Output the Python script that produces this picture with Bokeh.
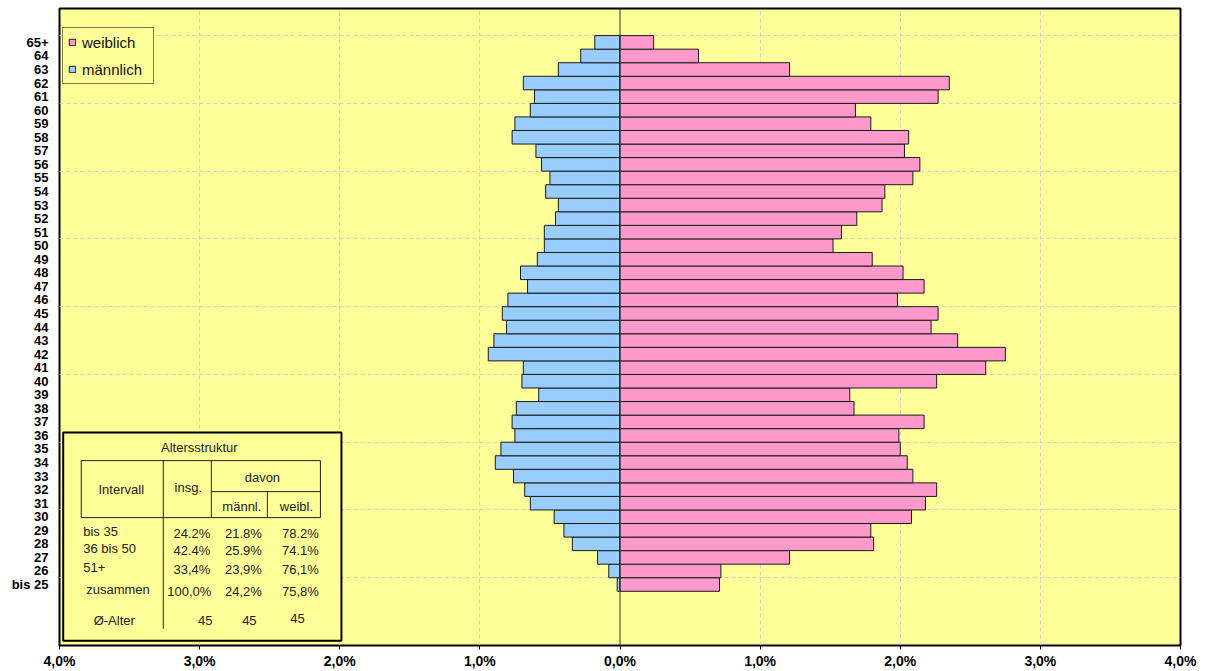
from bokeh.plotting import figure
from bokeh.models import Range1d, FixedTicker, Legend, LegendItem, Span
from bokeh.core.properties import value
from bokeh.embed import file_html
from bokeh.resources import INLINE

# ---------------- data ----------------
categories = ["bis 25"] + [str(a) for a in range(26, 65)] + ["65+"]
male = [0.02, 0.08, 0.16, 0.34, 0.40, 0.47, 0.64, 0.68, 0.76, 0.89,
        0.85, 0.75, 0.77, 0.74, 0.58, 0.70, 0.69, 0.94, 0.90, 0.81,
        0.84, 0.80, 0.66, 0.71, 0.59, 0.54, 0.54, 0.46, 0.44, 0.53,
        0.50, 0.56, 0.60, 0.77, 0.75, 0.64, 0.61, 0.69, 0.44, 0.28, 0.18]
female = [0.71, 0.72, 1.21, 1.81, 1.79, 2.08, 2.18, 2.26, 2.09, 2.05,
          2.00, 1.99, 2.17, 1.67, 1.64, 2.26, 2.61, 2.75, 2.41, 2.22,
          2.27, 1.98, 2.17, 2.02, 1.80, 1.52, 1.58, 1.69, 1.87, 1.89,
          2.09, 2.14, 2.03, 2.06, 1.79, 1.68, 2.27, 2.35, 1.21, 0.56, 0.24]
x_ticks = [-4, -3, -2, -1, 0, 1, 2, 3, 4]
x_tick_labels = ["4,0%", "3,0%", "2,0%", "1,0%", "0,0%", "1,0%", "2,0%", "3,0%", "4,0%"]
series_names = ["weiblich", "männlich"]

table_title = "Altersstruktur"
table_headers = ["Intervall", "insg.", "davon", "männl.", "weibl."]
row_labels = ["bis 35", "36 bis 50", "51+", "zusammen"]
share_total = ["24.2%", "42.4%", "33,4%", "100,0%"]
share_male = ["21.8%", "25.9%", "23,9%", "24,2%"]
share_female = ["78.2%", "74.1%", "76,1%", "75,8%"]
avg_label = "Ø-Alter"
avg_age = ["45", "45", "45"]

# ---------------- style ----------------
FONT = "Liberation Sans"
BG = "#FFFF99"
PINK = "#FF99CC"
BLUE = "#99CCFF"
GRID = "#cfcfcf"

ypos = list(range(len(categories)))

p = figure(width=1200, height=671,
           min_border_left=59, min_border_right=20, min_border_top=8, min_border_bottom=0,
           x_range=Range1d(-4, 4), y_range=Range1d(-4.5, 42.5),
           output_backend="svg", toolbar_location=None)
p.background_fill_color = BG
p.border_fill_color = "white"
p.outline_line_color = "black"
p.outline_line_width = 2

# grids
p.xgrid.ticker = FixedTicker(ticks=[-3, -2, -1, 1, 2, 3])
p.xgrid.grid_line_color = GRID
p.xgrid.grid_line_dash = "4 3"
p.ygrid.ticker = FixedTicker(ticks=[40.5 - 5 * k for k in range(9)])
p.ygrid.grid_line_color = GRID
p.ygrid.grid_line_dash = "4 3"

# axes
p.xaxis.ticker = FixedTicker(ticks=x_ticks)
p.xaxis.major_label_overrides = {t: l for t, l in zip(x_ticks, x_tick_labels)}
p.xaxis.major_label_text_font = FONT
p.xaxis.major_label_text_font_style = "bold"
p.xaxis.major_label_text_font_size = "14px"
p.xaxis.major_label_text_color = "black"
p.xaxis.major_tick_out = 4
p.xaxis.major_tick_in = 0
p.xaxis.major_tick_line_color = "black"
p.xaxis.minor_tick_line_color = None
p.xaxis.axis_line_color = "black"
p.xaxis.major_label_standoff = 3

p.yaxis.ticker = FixedTicker(ticks=ypos)
p.yaxis.major_label_overrides = {i: c for i, c in zip(ypos, categories)}
p.yaxis.major_label_text_font = FONT
p.yaxis.major_label_text_font_style = "bold"
p.yaxis.major_label_text_font_size = "13px"
p.yaxis.major_label_text_color = "black"
p.yaxis.major_tick_out = 0
p.yaxis.major_tick_in = 0
p.yaxis.minor_tick_line_color = None
p.yaxis.axis_line_color = None
p.yaxis.major_label_standoff = 11

# bars
neg_male = [-v for v in male]
rm = p.hbar(y=ypos, left=neg_male, right=0, height=1, fill_color=BLUE,
            line_color="#1a1a1a", line_width=1)
rf = p.hbar(y=ypos, left=0, right=female, height=1, fill_color=PINK,
            line_color="#1a1a1a", line_width=1)

p.add_layout(Span(location=0, dimension="height", line_color="#333333", line_width=1))

legend = Legend(items=[LegendItem(label=series_names[0], renderers=[rf]),
                       LegendItem(label=series_names[1], renderers=[rm])],
                location=(3, 561))
legend.border_line_color = "black"
legend.border_line_width = 1
legend.background_fill_color = BG
legend.background_fill_alpha = 1
legend.label_text_font = FONT
legend.label_text_font_size = "15px"
legend.label_text_color = "#111111"
legend.glyph_width = 8
legend.glyph_height = 8
legend.padding = 5
legend.spacing = 9
legend.label_height = 18
legend.label_width = 66
legend.label_standoff = 6
p.add_layout(legend, "center")

# ---------------- table (placed via reference pixel positions) ----------------
def dx(px):
    return (px - 620.3) / 140.0

def dy(py):
    return 42.5 - (py - 8.0) / 13.55

p.quad(left=[dx(64)], right=[dx(342)], top=[dy(432)], bottom=[dy(640)],
       fill_color=BG, line_color="black", line_width=2)

seg = [((82, 460), (321, 460)), ((212, 491), (321, 491)), ((82, 517), (321, 517)),
       ((82, 460), (82, 517)), ((321, 460), (321, 517)), ((164, 460), (164, 628)),
       ((212, 460), (212, 517)), ((268, 491), (268, 517))]
p.segment(x0=[dx(a[0]) for a, b in seg], y0=[dy(a[1]) for a, b in seg],
          x1=[dx(b[0]) for a, b in seg], y1=[dy(b[1]) for a, b in seg],
          line_color="#222222", line_width=1)

def txt(xs, ys, texts, align):
    p.text(x=[dx(v) for v in xs], y=[dy(v) for v in ys], text=texts,
           text_font=value(FONT), text_font_size="13px", text_color="#222222",
           text_align=align, text_baseline="middle")

txt([200], [447], [table_title], "center")
txt([122, 189, 263, 242.5, 297], [489, 487, 477, 506, 506], table_headers, "center")
txt([84, 84, 84, 87], [531, 548, 567, 589], row_labels, "left")
txt([211, 211, 211, 212], [533, 550, 569, 591], share_total, "right")
txt([244] * 4, [533, 550, 569, 591], share_male, "center")
txt([301] * 4, [533, 550, 569, 591], share_female, "center")
txt([115], [620], [avg_label], "center")
txt([206, 250, 298], [620, 620, 618], avg_age, "center")

open("out.html", "w").write(file_html(p, INLINE))
